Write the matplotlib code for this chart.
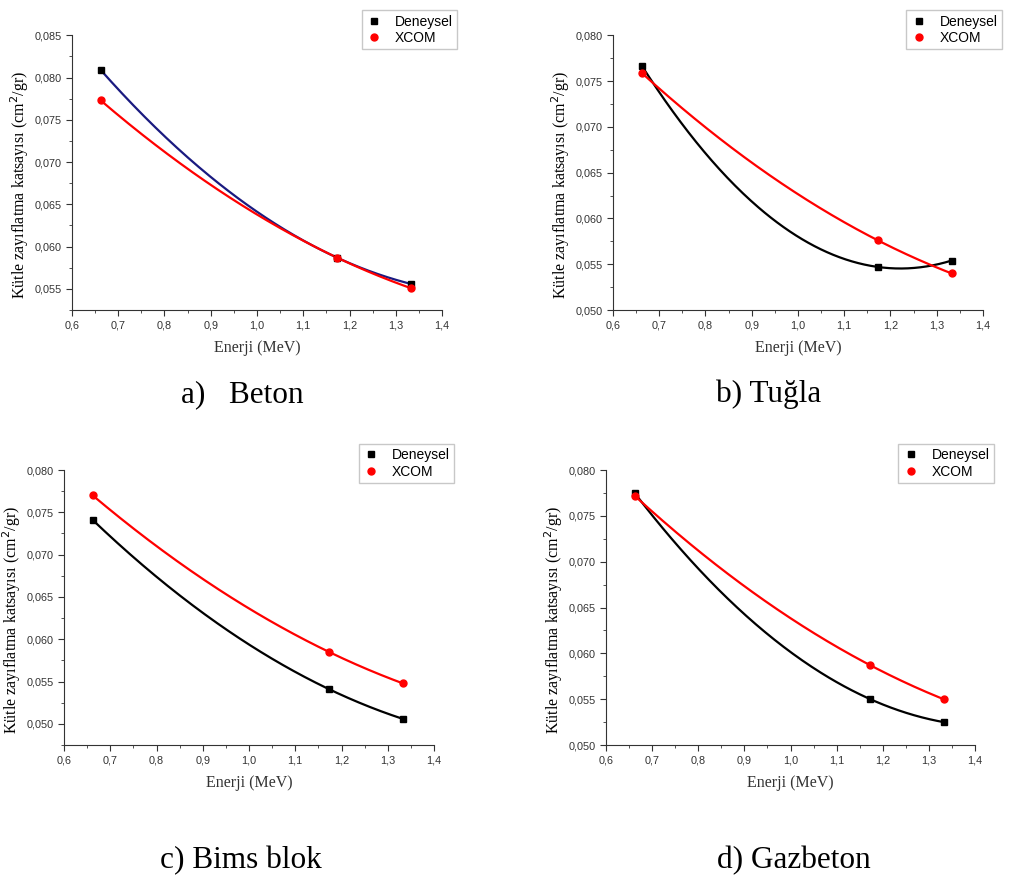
import numpy as np
import matplotlib.pyplot as plt
from matplotlib.ticker import MultipleLocator, FuncFormatter

energy = [0.662, 1.173, 1.332]

beton_deneysel = [0.0809, 0.0587, 0.0556]
beton_xcom = [0.0773, 0.0587, 0.0551]
tugla_deneysel = [0.0767, 0.0547, 0.0554]
tugla_xcom = [0.0759, 0.0576, 0.0540]
bims_deneysel = [0.0741, 0.0541, 0.0506]
bims_xcom = [0.0770, 0.0585, 0.0548]
gaz_deneysel = [0.0775, 0.0550, 0.0525]
gaz_xcom = [0.0772, 0.0587, 0.0550]

captions = ['a)   Beton', 'b) Tuğla', 'c) Bims blok', 'd) Gazbeton']

panels = [
    # axes rect, ylim, deneysel line color, data, legend anchor, caption position
    ([0.0712, 0.6485, 0.366, 0.3115], (0.0525, 0.085), '#1a1a80',
     beton_deneysel, beton_xcom, (1.06, 1.116), (0.240, 0.544)),
    ([0.6063, 0.6485, 0.366, 0.3115], (0.050, 0.080), 'black',
     tugla_deneysel, tugla_xcom, (1.07, 1.116), (0.760, 0.544)),
    ([0.0633, 0.1553, 0.366, 0.3118], (0.0475, 0.080), 'black',
     bims_deneysel, bims_xcom, (1.073, 1.12), (0.238, 0.016)),
    ([0.5994, 0.1553, 0.365, 0.3118], (0.050, 0.080), 'black',
     gaz_deneysel, gaz_xcom, (1.07, 1.12), (0.785, 0.016)),
]

comma = lambda fmt: FuncFormatter(lambda v, p: (fmt % v).replace('.', ','))

fig = plt.figure(figsize=(10.11, 8.82), dpi=100)

for (rect, ylim, dcol, den, xcom, leg_anchor, cap_pos), cap in zip(panels, captions):
    ax = fig.add_axes(rect)
    xs = np.linspace(energy[0], energy[-1], 200)

    # smooth connecting curves through the three points
    for vals, col in [(den, dcol), (xcom, 'red')]:
        coef = np.polyfit(energy, vals, 2)
        ax.plot(xs, np.polyval(coef, xs), color=col, lw=1.6, zorder=2)

    ax.plot(energy, den, 's', color='black', ms=5, label='Deneysel', zorder=3)
    ax.plot(energy, xcom, 'o', color='red', ms=5, label='XCOM', zorder=3)

    ax.set_xlim(0.6, 1.4)
    ax.set_ylim(*ylim)
    ax.xaxis.set_major_locator(MultipleLocator(0.1))
    ax.xaxis.set_minor_locator(MultipleLocator(0.05))
    ax.yaxis.set_major_locator(MultipleLocator(0.005))
    ax.yaxis.set_minor_locator(MultipleLocator(0.0025))
    ax.xaxis.set_major_formatter(comma('%.1f'))
    ax.yaxis.set_major_formatter(comma('%.3f'))

    for s in ['top', 'right']:
        ax.spines[s].set_visible(False)
    for s in ['left', 'bottom']:
        ax.spines[s].set_color('#333333')
    ax.tick_params(which='major', length=4, color='#333333', labelsize=7.8,
                   labelcolor='#333333')
    ax.tick_params(which='minor', length=2.5, color='#333333')
    for lab in ax.get_xticklabels() + ax.get_yticklabels():
        lab.set_family('Liberation Sans')

    ax.set_xlabel('Enerji (MeV)', family='Liberation Serif', fontsize=11.5,
                  color='#333333', labelpad=7)
    ax.set_ylabel('Kütle zayıflatma katsayısı (cm$^2$/gr)', family='Liberation Serif',
                  fontsize=11.5)
    ax.yaxis.set_label_coords(-0.112, 0.455)

    leg = ax.legend(loc='upper right', bbox_to_anchor=leg_anchor, fancybox=False,
                    prop={'family': 'Liberation Sans', 'size': 10}, handletextpad=0.9,
                    borderpad=0.3, labelspacing=0.2, handlelength=1.2)
    leg.get_frame().set_edgecolor('#bbbbbb')
    leg.get_frame().set_linewidth(1.0)

    fig.text(cap_pos[0], cap_pos[1], cap, family='Liberation Serif', fontsize=22.5,
             ha='center', va='baseline')

fig.savefig('out.png', dpi=100)
